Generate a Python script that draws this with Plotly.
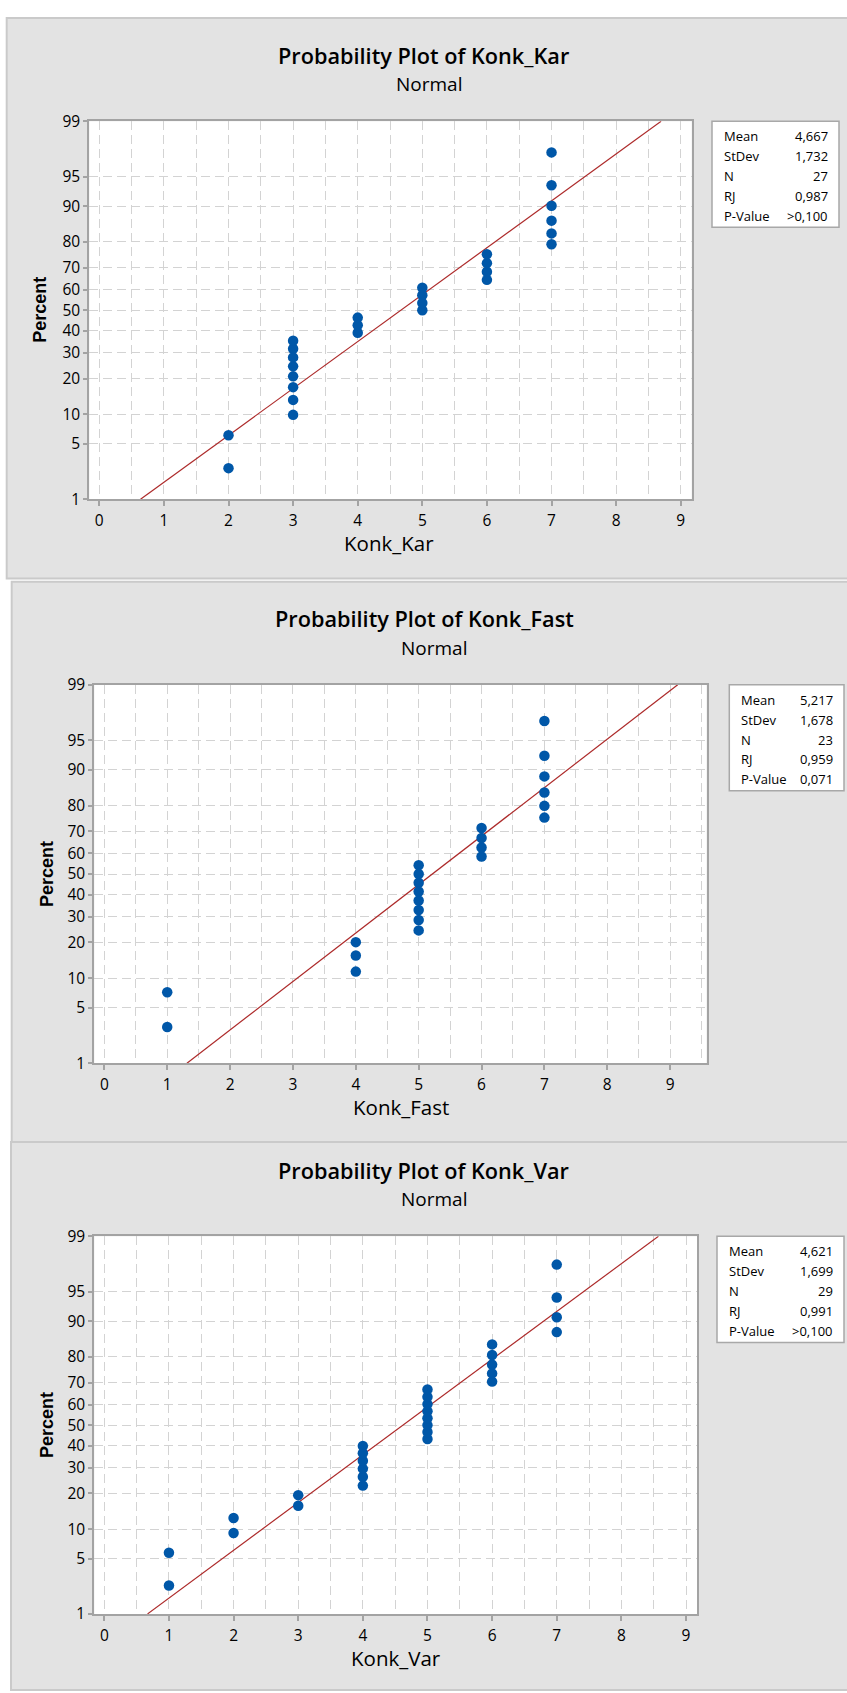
import plotly.graph_objects as go
from statistics import NormalDist

W, H = 847, 1693
ND = NormalDist()

# ---------------- data ----------------
kar_x = [2, 2, 3, 3, 3, 3, 3, 3, 3, 3, 4, 4, 4, 5, 5, 5, 5, 6, 6, 6, 6, 7, 7, 7, 7, 7, 7]
kar_pct = [2.6, 6.2, 9.9, 13.5, 17.2, 20.8, 24.5, 28.1, 31.8, 35.4, 39.1, 42.7, 46.4,
           50.0, 53.6, 57.3, 60.9, 64.6, 68.2, 71.9, 75.5, 79.2, 82.8, 86.5, 90.1, 93.8, 97.4]
kar_stats = {"Mean": "4,667", "StDev": "1,732", "N": "27", "RJ": "0,987", "P-Value": ">0,100"}
kar_mean, kar_sd = 4.667, 1.732

fast_x = [1, 1, 4, 4, 4, 5, 5, 5, 5, 5, 5, 5, 5, 6, 6, 6, 6, 7, 7, 7, 7, 7, 7]
fast_pct = [3.0, 7.3, 11.5, 15.8, 20.1, 24.4, 28.6, 32.9, 37.2, 41.5, 45.7, 50.0,
            54.3, 58.5, 62.8, 67.1, 71.4, 75.6, 79.9, 84.2, 88.5, 92.7, 97.0]
fast_stats = {"Mean": "5,217", "StDev": "1,678", "N": "23", "RJ": "0,959", "P-Value": "0,071"}
fast_mean, fast_sd = 5.217, 1.678

var_x = [1, 1, 2, 2, 3, 3, 4, 4, 4, 4, 4, 4, 5, 5, 5, 5, 5, 5, 5, 5, 6, 6, 6, 6, 6, 7, 7, 7, 7]
var_pct = [2.4, 5.8, 9.2, 12.6, 16.0, 19.4, 22.8, 26.2, 29.6, 33.0, 36.4, 39.8, 43.2, 46.6,
           50.0, 53.4, 56.8, 60.2, 63.6, 67.0, 70.4, 73.8, 77.2, 80.6, 84.0, 87.4, 90.8, 94.2, 97.6]
var_stats = {"Mean": "4,621", "StDev": "1,699", "N": "29", "RJ": "0,991", "P-Value": ">0,100"}
var_mean, var_sd = 4.621, 1.699

pct_ticks = [1, 5, 10, 20, 30, 40, 50, 60, 70, 80, 90, 95, 99]
x_ticks = [0, 1, 2, 3, 4, 5, 6, 7, 8, 9]

# ---------------- layout (pixel geometry) ----------------
panels = [
    dict(var="Konk_Kar", x=kar_x, pct=kar_pct, stats=kar_stats, mean=kar_mean, sd=kar_sd,
         box=(6.7, 6, 852, 574), plot=(89.3, 110.7, 691.7, 493.7), xrange=[-0.155, 9.17],
         title=(423, 43.7), sub=(428.5, 72.9), xt=(388.5, 538.3), yt=(40.5, 302.2),
         leg=(712, 110.7, 839, 218)),
    dict(var="Konk_Fast", x=fast_x, pct=fast_pct, stats=fast_stats, mean=fast_mean, sd=fast_sd,
         box=(11.7, 577.3, 852, 1145), plot=(94.3, 681.7, 706.6, 1065), xrange=[-0.16, 9.58],
         title=(424.5, 614.7), sub=(433.8, 644.2), xt=(400.5, 1109.2), yt=(47, 873.3),
         leg=(729.3, 681.7, 844, 789)),
    dict(var="Konk_Var", x=var_x, pct=var_pct, stats=var_stats, mean=var_mean, sd=var_sd,
         box=(11, 1145, 852, 1700), plot=(94.3, 1240.4, 697, 1623), xrange=[-0.155, 9.17],
         title=(423.5, 1173.8), sub=(433.8, 1202.9), xt=(395.6, 1667.5), yt=(47, 1431.7),
         leg=(717, 1240.4, 844, 1348)),
]

FONT = "Open Sans"
GRID = "#d3d3d3"
DASH = "9px,5px"
PANEL_BG = "#e3e3e3"
PANEL_LINE = "#cacaca"
AXIS_LINE = "#a3a3a3"
DOT = "#0057a8"
FIT = "#ad2a2a"
TXT = "#000000"


def fx(x):
    return x / W


def fy(y):
    return 1 - y / H


z_lo, z_hi = ND.inv_cdf(0.01), ND.inv_cdf(0.99)

fig = go.Figure()
shapes = []
annotations = []
layout = {}

for p in panels:
    bx0, by0, bx1, by1 = p["box"]
    shapes.append(dict(type="rect", xref="paper", yref="paper", x0=fx(bx0), x1=fx(bx1),
                       y0=fy(by1), y1=fy(by0), fillcolor=PANEL_BG,
                       line=dict(color=PANEL_LINE, width=2), layer="below"))
for p in panels:
    px0, py0, px1, py1 = p["plot"]
    shapes.append(dict(type="rect", xref="paper", yref="paper", x0=fx(px0), x1=fx(px1),
                       y0=fy(py1), y1=fy(py0), fillcolor="white",
                       line=dict(width=0), layer="below"))

for k, p in enumerate(panels):
    sfx = "" if k == 0 else str(k + 1)
    xa, ya = "x" + sfx, "y" + sfx
    px0, py0, px1, py1 = p["plot"]

    # fitted line from the legend's mean and stdev
    fit_x = [p["mean"] + p["sd"] * z_lo, p["mean"] + p["sd"] * z_hi]
    fig.add_trace(go.Scatter(x=fit_x, y=[z_lo, z_hi], mode="lines",
                             line=dict(color=FIT, width=1.2), xaxis=xa, yaxis=ya,
                             showlegend=False, hoverinfo="skip"))
    fig.add_trace(go.Scatter(x=p["x"], y=[ND.inv_cdf(v / 100) for v in p["pct"]],
                             mode="markers", marker=dict(color=DOT, size=10.5),
                             xaxis=xa, yaxis=ya, showlegend=False))

    layout["xaxis" + sfx] = dict(
        domain=[fx(px0), fx(px1)], anchor=ya, range=p["xrange"],
        tickvals=x_ticks, ticktext=[str(t) for t in x_ticks],
        showgrid=True, gridcolor=GRID, griddash=DASH, gridwidth=1,
        minor=dict(dtick=0.5, tick0=0, showgrid=True, gridcolor=GRID, griddash=DASH, gridwidth=1),
        zeroline=False, showline=True, mirror=True, linecolor=AXIS_LINE, linewidth=2,
        ticks="outside", ticklen=5, tickcolor=AXIS_LINE, tickwidth=1.5,
        ticklabelstandoff=1,
        tickfont=dict(family=FONT, size=15.5, color=TXT), fixedrange=True)
    layout["yaxis" + sfx] = dict(
        domain=[fy(py1), fy(py0)], anchor=xa, range=[z_lo, z_hi],
        tickvals=[ND.inv_cdf(t / 100) for t in pct_ticks], ticktext=[str(t) for t in pct_ticks],
        showgrid=True, gridcolor=GRID, griddash=DASH, gridwidth=1,
        zeroline=False, showline=True, mirror=True, linecolor=AXIS_LINE, linewidth=2,
        ticks="outside", ticklen=4, tickcolor=AXIS_LINE, tickwidth=1.5,
        tickfont=dict(family=FONT, size=15.5, color=TXT), fixedrange=True)

    # titles
    annotations.append(dict(text="Probability Plot of " + p["var"], x=fx(p["title"][0]),
                            y=fy(p["title"][1]), xref="paper", yref="paper", showarrow=False,
                            xanchor="center", yanchor="middle",
                            font=dict(family=FONT, size=21.7, color=TXT, weight=600)))
    annotations.append(dict(text="Normal", x=fx(p["sub"][0]), y=fy(p["sub"][1]),
                            xref="paper", yref="paper", showarrow=False,
                            xanchor="center", yanchor="middle",
                            font=dict(family=FONT, size=19, color=TXT)))
    annotations.append(dict(text=p["var"], x=fx(p["xt"][0]), y=fy(p["xt"][1]),
                            xref="paper", yref="paper", showarrow=False,
                            xanchor="center", yanchor="middle",
                            font=dict(family=FONT, size=20.5, color=TXT)))
    annotations.append(dict(text="<b>Percent</b>", x=fx(p["yt"][0]), y=fy(p["yt"][1]),
                            xref="paper", yref="paper", showarrow=False, textangle=-90,
                            xanchor="center", yanchor="middle",
                            font=dict(family="Liberation Sans", size=18, color=TXT)))

    # stats box
    lx0, ly0, lx1, ly1 = p["leg"]
    shapes.append(dict(type="rect", xref="paper", yref="paper", x0=fx(lx0), x1=fx(lx1),
                       y0=fy(ly1), y1=fy(ly0), fillcolor="white",
                       line=dict(color="#a8a8a8", width=1.5)))
    for i, (lab, val) in enumerate(p["stats"].items()):
        yy = ly0 + 15 + 20.2 * i
        annotations.append(dict(text=lab, x=fx(lx0 + 9.5), y=fy(yy), xref="paper", yref="paper",
                                showarrow=False, xanchor="left", yanchor="middle",
                                font=dict(family=FONT, size=13, color=TXT)))
        annotations.append(dict(text=val, x=fx(lx1 - 9), y=fy(yy), xref="paper", yref="paper",
                                showarrow=False, xanchor="right", yanchor="middle",
                                font=dict(family=FONT, size=13, color=TXT)))

fig.update_layout(width=W, height=H, autosize=False, margin=dict(l=0, r=0, t=0, b=0, pad=0),
                  paper_bgcolor="white", plot_bgcolor="white", showlegend=False,
                  shapes=shapes, annotations=annotations, **layout)

fig.write_html("out.html")
